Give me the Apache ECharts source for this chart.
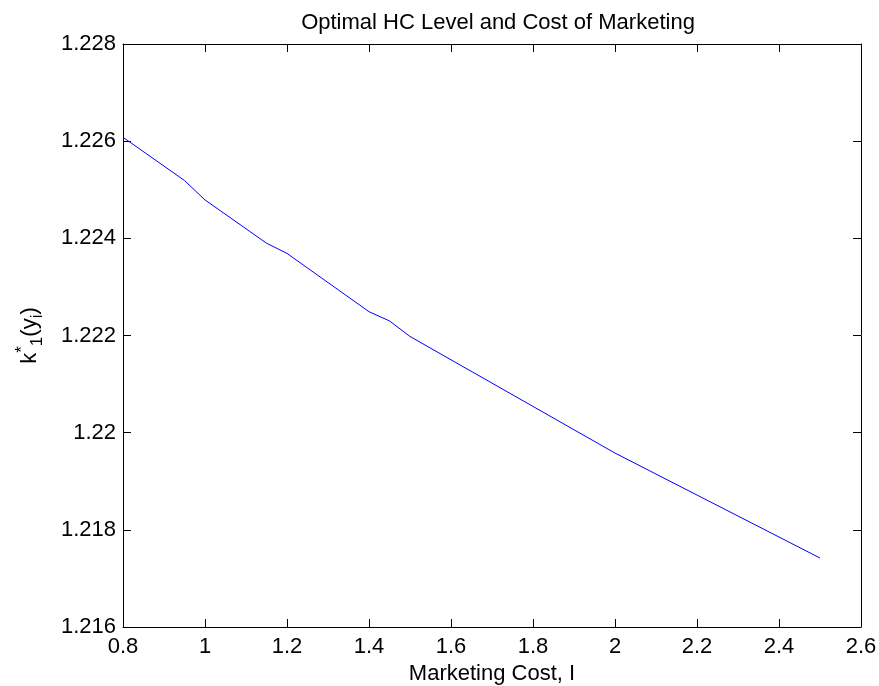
<!DOCTYPE html>
<html>
<head>
<meta charset="utf-8">
<script src="https://cdn.jsdelivr.net/npm/echarts@6/dist/echarts.min.js"></script>
<style>html,body{margin:0;padding:0;background:#fff;}#c{width:879px;height:686px;}</style>
</head>
<body>
<div id="c"></div>
<script>
var marketingCost = [0.8, 0.95, 1.0, 1.15, 1.2, 1.4, 1.45, 1.5, 2.0, 2.5];
var k1Level = [1.22608, 1.22519, 1.22479, 1.2239, 1.22369, 1.22249, 1.2223, 1.22198, 1.21958, 1.21742];
var xTicks = ['0.8', '1', '1.2', '1.4', '1.6', '1.8', '2', '2.2', '2.4', '2.6'];
var yTicks = ['1.216', '1.218', '1.22', '1.222', '1.224', '1.226', '1.228'];

var FONT = 'Liberation Sans, Arial, Helvetica, sans-serif';
var chart = echarts.init(document.getElementById('c'));
var points = marketingCost.map(function (x, i) { return [x, k1Level[i]]; });

function fmt(v) { return String(parseFloat(v.toFixed(4))); }

var lineStyle = { color: '#000', width: 1 };
var tickStyle = { show: true, inside: true, length: 8, lineStyle: { color: '#000', width: 1 } };

chart.setOption({
  animation: false,
  backgroundColor: '#fff',
  title: {
    text: 'Optimal HC Level and Cost of Marketing',
    left: 493, top: 7, textAlign: 'center',
    textStyle: { fontFamily: FONT, fontSize: 22, fontWeight: 'normal', color: '#000' }
  },
  grid: { left: 123, right: 18, top: 44, bottom: 59, containLabel: false, outerBoundsMode: 'none' },
  xAxis: [{
    type: 'value', min: 0.8, max: 2.6, interval: 0.2, position: 'bottom',
    name: 'Marketing Cost, I', nameLocation: 'middle', nameGap: 35,
    nameTextStyle: { fontFamily: FONT, fontSize: 22, color: '#000' },
    axisLine: { show: true, lineStyle: lineStyle },
    axisTick: tickStyle,
    splitLine: { show: false },
    axisLabel: { margin: 9, fontFamily: FONT, fontSize: 22, color: '#000',
      formatter: function (v) { var s = fmt(v); return xTicks.indexOf(s) >= 0 ? s : ''; } }
  }, {
    type: 'value', min: 0.8, max: 2.6, interval: 0.2, position: 'top',
    axisLine: { show: true, lineStyle: lineStyle },
    axisTick: tickStyle, splitLine: { show: false }, axisLabel: { show: false }
  }],
  yAxis: [{
    type: 'value', min: 1.216, max: 1.228, interval: 0.002, position: 'left',
    name: '{k|k}{sup|*}{sub|1}{k|(y}{sub|i}{k|)}',
    nameLocation: 'middle', nameGap: 76, nameRotate: 90,
    nameTextStyle: {
      fontFamily: FONT, fontSize: 22, color: '#000',
      rich: {
        k: { fontFamily: FONT, fontSize: 22, color: '#000', lineHeight: 34 },
        sup: { fontFamily: FONT, fontSize: 17, color: '#000', padding: [0, 0, 16, 0], lineHeight: 34 },
        sub: { fontFamily: FONT, fontSize: 17, color: '#000', padding: [14, 0, 0, 0], lineHeight: 34 }
      }
    },
    axisLine: { show: true, lineStyle: lineStyle },
    axisTick: tickStyle,
    splitLine: { show: false },
    axisLabel: { margin: 7, fontFamily: FONT, fontSize: 22, color: '#000',
      formatter: function (v) { var s = fmt(v); return yTicks.indexOf(s) >= 0 ? s : ''; } }
  }, {
    type: 'value', min: 1.216, max: 1.228, interval: 0.002, position: 'right',
    axisLine: { show: true, lineStyle: lineStyle },
    axisTick: tickStyle, splitLine: { show: false }, axisLabel: { show: false }
  }],
  series: [{
    type: 'line', xAxisIndex: 0, yAxisIndex: 0,
    data: points, showSymbol: false, symbol: 'none',
    lineStyle: { color: '#0000ff', width: 1 }
  }]
});
</script>
</body>
</html>
